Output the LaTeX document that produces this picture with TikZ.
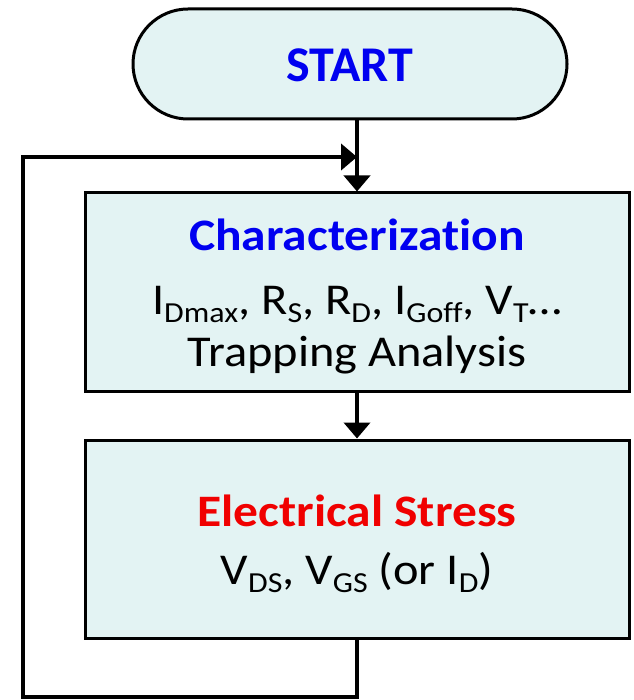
\documentclass[tikz,border=0pt]{standalone}
\usepackage{fontspec}
\usepackage{graphicx}
\setmainfont[FakeStretch=1.1, Ligatures=NoCommon]{Carlito}
\newfontfamily\plainfont{Carlito}
\usetikzlibrary{arrows.meta,shapes.misc}
\definecolor{boxfill}{HTML}{E3F3F3}
\definecolor{ttlblue}{HTML}{0000F0}
\definecolor{ttlred}{HTML}{F00000}
\newcommand{\lsb}[1]{\raisebox{-0.2em}{\scalebox{0.66}{#1}}}
\tikzset{
  flowbox/.style={draw=black, line width=3pt, fill=boxfill, minimum width=544pt, minimum height=198pt, inner sep=0pt},
  termbox/.style={draw=black, line width=3pt, fill=boxfill, rounded rectangle, minimum width=434pt, minimum height=110pt, inner sep=0pt},
  conn/.style={line width=4pt, -{Triangle[width=26pt,length=16pt]}},
  ttl/.style={font=\fontsize{45}{54}\selectfont\bfseries, anchor=base, inner sep=0pt},
  body/.style={font=\fontsize{44}{52}\selectfont, anchor=base, inner sep=0pt},
}
\begin{document}
\begin{tikzpicture}[x=1pt,y=-1pt]
\useasboundingbox (0,0) rectangle (633,700);
\node[termbox] (start) at (350,64) {};
\node[font=\plainfont\fontsize{50}{60}\selectfont\bfseries, text=ttlblue, anchor=base, inner sep=0pt] (starttxt) at (350,82) {START};

\node[flowbox, minimum height=198pt] (b1) at (357,292) {};
\node[ttl, text=ttlblue] (b1a) at (357,251) {Characterization};
\node[body] (b1b) at (357,314) {I\lsb{Dmax}, R\lsb{S}, R\lsb{D}, I\lsb{Goff}, V\lsb{T}…};
\node[body] (b1c) at (357,366) {Trapping Analysis};

\node[flowbox, minimum height=198pt] (b2) at (357,539) {};
\node[ttl, text=ttlred] (b2a) at (357,526) {Electrical Stress};
\node[body] (b2b) at (357,584) {V\lsb{DS}, V\lsb{GS} (or I\lsb{D})};

\coordinate (lb) at (23,697);
\coordinate (lt) at (23,157);
\coordinate (join) at (357,157);

\draw[conn] (start.south -| b1.north) -- (b1.north);
\draw[conn] (b1.south) -- (b2.north);
\draw[conn, line join=miter] (b2.south) |- (lb) -- (lt) -- (join);
\end{tikzpicture}
\end{document}
